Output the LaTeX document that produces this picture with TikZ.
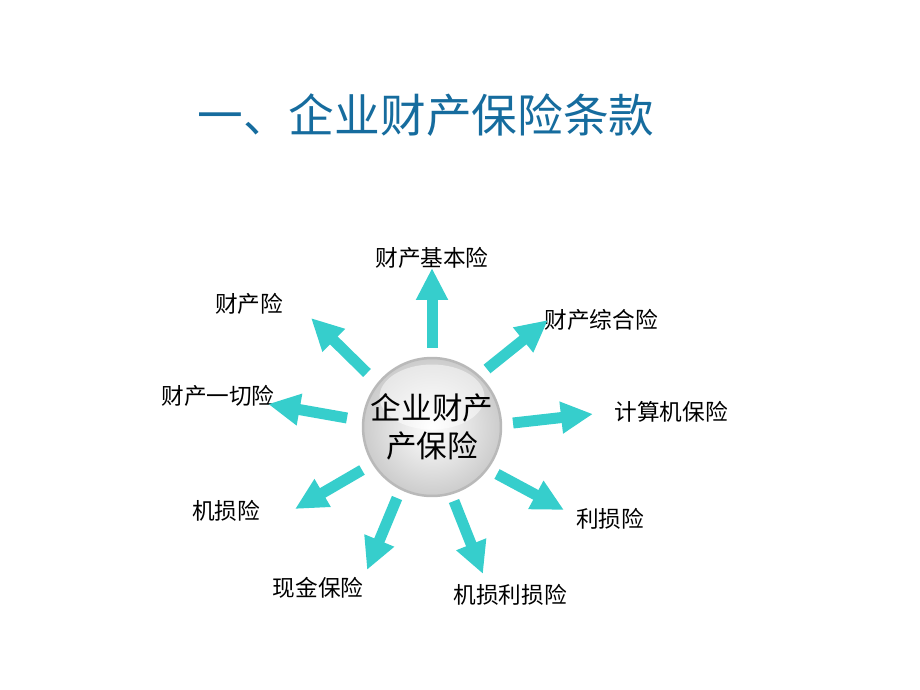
\documentclass[tikz,border=0pt]{standalone}
\usepackage{fontspec}
\setmainfont{Noto Sans CJK SC}
\usetikzlibrary{arrows.meta}
\definecolor{titleblue}{RGB}{22,108,158}
\definecolor{spokecyan}{RGB}{54,206,204}

\begin{document}
\begin{tikzpicture}[x=0.02cm,y=-0.02cm,
hub/.style = {circle,draw=gray!55,line width=0.05cm,minimum size=2.76cm,inner sep=-1.5pt,
  inner color=white,outer color=gray!40,align=center,
  font=\fontsize{17.4}{22}\selectfont,
  path picture={\fill[white,opacity=0.5] ([yshift=0.6cm]path picture bounding box.center) ellipse (1.05cm and 0.65cm);}},
leaf/.style = {font=\fontsize{12.9}{15}\selectfont,inner sep=0pt},
spoke/.style = {draw=spokecyan,line width=0.22cm,-{Triangle[width=0.6cm,length=0.64cm]}}]
\useasboundingbox (0,0) rectangle (920,690);
% title
\node[text=titleblue,font=\fontsize{26}{30}\selectfont] (title) at (426,115) {一、企业财产保险条款};
% centre
\node[hub] (c) at (432,427) {企业财产\\产保险};
% labels
\node[leaf] (lA) at (432,258) {财产基本险};
\node[leaf] (lB) at (601,320) {财产综合险};
\node[leaf] (lC) at (671,412) {计算机保险};
\node[leaf] (lD) at (610,519) {利损险};
\node[leaf] (lE) at (510,595) {机损利损险};
\node[leaf] (lF) at (318,588) {现金保险};
\node[leaf] (lG) at (226,511) {机损险};
\node[leaf] (lH) at (218,396) {财产一切险};
\node[leaf] (lI) at (249,304) {财产险};
% spokes
\foreach \n/\s/\t in {A/{432,348}/{432,268}, B/{487,369}/{548,320},
    C/{513,423}/{593,414}, D/{497,474}/{564,510}, E/{454,501}/{483,574},
    F/{397,498}/{367,570}, G/{362,470}/{295,509}, H/{347,418}/{268,404},
    I/{367,373}/{311,318}}{
  \coordinate (s\n) at (\s);
  \coordinate (t\n) at (\t);
  \draw[spoke] (s\n) -- (t\n);
}
\end{tikzpicture}
\end{document}
